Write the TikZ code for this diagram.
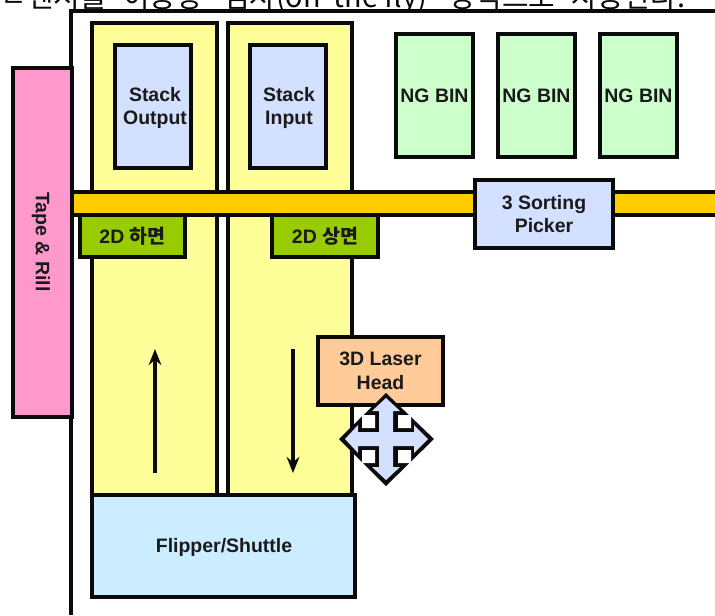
\documentclass[tikz,border=0pt]{standalone}
\usepackage{fontspec}
\setmainfont{Liberation Sans}
\newfontfamily\krfont{Noto Sans CJK KR}
\usetikzlibrary{arrows.meta}
\definecolor{inkc}{HTML}{0A0A0A}
\definecolor{txtc}{HTML}{1A1A1A}
\definecolor{yelc}{HTML}{FFFF99}
\definecolor{bluc}{HTML}{D4E0FF}
\definecolor{grnc}{HTML}{CCFFCC}
\definecolor{barc}{HTML}{FFCC00}
\definecolor{pnkc}{HTML}{FF99CC}
\definecolor{olvc}{HTML}{99CC00}
\definecolor{pchc}{HTML}{FFCC99}
\definecolor{cyac}{HTML}{CCECFF}
\tikzset{
  x=0.75pt,y=-0.75pt,
  blockbox/.style={draw=inkc,line width=3pt,inner sep=0pt,align=center,text=txtc,
    font=\fontsize{14.6}{17.6}\selectfont\bfseries},
  blocktext/.style={inner sep=0pt,align=center,text=txtc,
    font=\fontsize{14.6}{17.6}\selectfont\bfseries},
  wline/.style={draw=inkc,line width=3pt},
  flowarrow/.style={draw=inkc,line width=2.4pt,-{Stealth[length=12pt,width=9.5pt]}},
}
\newcommand{\blockat}[7]{% name, x1,y1,x2,y2, fill, text
  \pgfmathsetmacro{\bw}{(#4-#2)*0.75}\pgfmathsetmacro{\bh}{(#5-#3)*0.75}
  \node[blockbox,fill=#6,minimum width=\bw pt,minimum height=\bh pt] (#1) at ({(#2+#4)/2},{(#3+#5)/2}) {#7};}
\begin{document}
\begin{tikzpicture}
\useasboundingbox (0,0) rectangle (715,615);
\fill[white] (0,0) rectangle (715,615);
% cropped line of text at the top
\begin{scope}
\clip (0,0) rectangle (715,10);
\node[anchor=base west,inner sep=0pt,font=\krfont\fontsize{21.6}{24}\selectfont,text=inkc] (topline) at (0,7.5) {\makebox[20.25pt][l]{ㄴ}\makebox[72pt][l]{센서를}\makebox[75pt][l]{이용항}\makebox[169.5pt][l]{검사(on\ \ the fly)}\makebox[91.5pt][l]{방식으로}사용한다.};
\end{scope}
% frame
\coordinate (fa) at (71,615);
\coordinate (fb) at (71,11);
\coordinate (fc) at (715,11);
\draw[wline] (fa) -- (fb) -- (fc);
% columns
\blockat{colL}{92}{23}{217}{495}{yelc}{}
\blockat{colR}{228}{23}{352}{495}{yelc}{}
\blockat{out}{115}{45}{191}{168}{bluc}{}
\node[blocktext] (outt) at (155,108) {Stack\\Output};
\blockat{inp}{250}{45}{326}{168}{bluc}{}
\node[blocktext] (inpt) at (289,108) {Stack\\Input};
% bins
\blockat{binA}{396}{34}{473}{157}{grnc}{NG BIN}
\blockat{binB}{498}{34}{575}{157}{grnc}{NG BIN}
\blockat{binC}{600}{34}{677}{157}{grnc}{NG BIN}
% bar
\fill[barc] (71,192) rectangle (715,215);
\draw[wline] (71,192) -- (715,192) (71,215) -- (715,215);
\blockat{pick}{475}{180}{613}{248}{bluc}{3 Sorting\\Picker}
\blockat{lowr}{80}{215}{185}{257}{olvc}{2D {\krfont 하면}}
\blockat{uppr}{272}{215}{378}{257}{olvc}{2D {\krfont 상면}}
% tape
\blockat{tape}{13}{68}{72}{417}{pnkc}{}
\node[rotate=-90,blocktext] (tapet) at (41,242) {Tape \& Rill};
% shuttle
\blockat{flip}{92}{495}{355}{597}{cyac}{}
\node[blocktext] (flipt) at (224,547) {Flipper/Shuttle};
% arrows
\coordinate (upA) at (155,473);
\coordinate (upB) at (155,349);
\coordinate (dnA) at (293,349);
\coordinate (dnB) at (293,473);
\draw[flowarrow] (upA) -- (upB);
\draw[flowarrow] (dnA) -- (dnB);
% laser
\blockat{laser}{318}{337}{443}{405}{pchc}{3D Laser\\Head}
% move icon
\fill[inkc] (386,393) -- (434,439) -- (386,486) -- (339,439) -- cycle;
\fill[white] (362,415) rectangle (375,428) (398,415) rectangle (411,428)
             (362,450) rectangle (375,463) (398,450) rectangle (411,463);
\fill[bluc] (386,398) -- (400,411) -- (393,411) -- (393,432) -- (414,432) -- (414,425)
  -- (428,439) -- (414,453) -- (414,446) -- (393,446) -- (393,467) -- (400,467)
  -- (386,480) -- (372,467) -- (379,467) -- (379,446) -- (358,446) -- (358,453)
  -- (345,439) -- (358,425) -- (358,432) -- (379,432) -- (379,411) -- (372,411) -- cycle;
\end{tikzpicture}
\end{document}
